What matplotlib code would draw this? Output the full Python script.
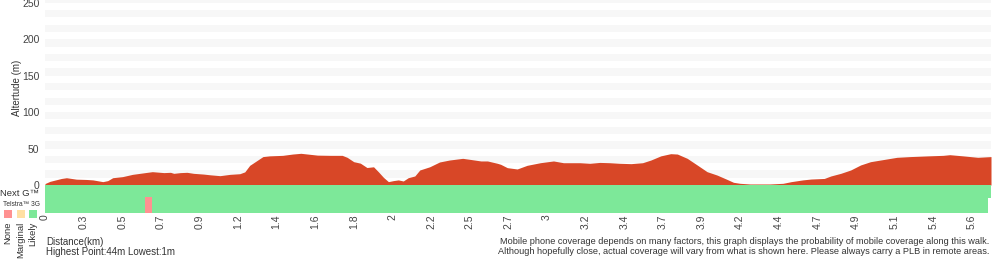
import numpy as np
import matplotlib
matplotlib.use("Agg")
import matplotlib.pyplot as plt

plt.rcParams['font.family'] = ['Liberation Sans', 'DejaVu Sans']

# elevation profile (km, m)
dist_km = [0.00, 0.03, 0.10, 0.13, 0.19, 0.25, 0.29, 0.35, 0.38, 0.41, 0.47, 0.53,
           0.62, 0.65, 0.72, 0.76, 0.78, 0.82, 0.86, 0.90, 0.96, 1.00, 1.06, 1.12,
           1.18, 1.21, 1.24, 1.28, 1.32, 1.36, 1.44, 1.50, 1.55, 1.59, 1.65, 1.73,
           1.80, 1.83, 1.87, 1.91, 1.95, 1.99, 2.02, 2.05, 2.08, 2.11, 2.14, 2.17,
           2.20, 2.24, 2.27, 2.33, 2.39, 2.45, 2.53, 2.58, 2.64, 2.68, 2.74, 2.76,
           2.80, 2.86, 2.92, 3.00, 3.08, 3.14, 3.24, 3.30, 3.36, 3.42, 3.48, 3.55,
           3.62, 3.67, 3.73, 3.79, 3.83, 3.89, 3.95, 4.01, 4.07, 4.13, 4.17, 4.21,
           4.27, 4.39, 4.47, 4.52, 4.59, 4.64, 4.72, 4.76, 4.82, 4.88, 4.94, 5.00,
           5.08, 5.16, 5.24, 5.35, 5.44, 5.48, 5.56, 5.65, 5.73]
elev_m = [2, 5, 9, 10, 8, 7.6, 7, 4.6, 6, 10, 11.5, 14.6,
          17.4, 18.3, 17, 17.4, 16, 17, 17.4, 16, 15, 14, 12.8, 14.6,
          15.5, 18, 27, 33, 39, 40, 40.7, 42.5, 43.5, 42.5, 41, 40.7,
          40.7, 38, 32, 30, 24, 25, 18, 10.5, 4.6, 6, 7, 5.5,
          10, 12.4, 20.6, 25, 31.6, 34.3, 36.6, 35, 33, 33, 29.8, 28.4,
          23.8, 22, 27, 30.6, 33, 30.6, 30.6, 29.8, 31, 30.6, 29.8, 29.3,
          30.6, 34.3, 40, 43, 42.5, 36.6, 27.5, 18.3, 13.7, 7.8, 3.7, 2.3,
          1.4, 1.4, 2.3, 4.6, 7, 8.2, 9, 12.4, 16, 20.6, 27.5, 32,
          35, 38, 39, 40, 40.7, 41.6, 40, 38, 39]

# coverage segments (start km, end km)
nextg_likely = [(0.0, 5.73)]
g3_likely = [(0.0, 0.606), (0.648, 5.71)]
g3_none = [(0.606, 0.648)]

tick_labels = ['0', '0.3', '0.5', '0.7', '0.9', '1.2', '1.4', '1.6', '1.8', '2',
               '2.2', '2.5', '2.7', '3', '3.2', '3.4', '3.7', '3.9', '4.2', '4.4',
               '4.7', '4.9', '5.1', '5.4', '5.6']
y_ticks = [0, 50, 100, 150, 200, 250]

RED = '#d84727'
GREEN = '#7de899'
PINK = '#ff9191'
YELLOW = '#ffe0a3'
STRIPE = '#f7f7f7'
TXT = '#333333'

W, H = 1000, 260
fig = plt.figure(figsize=(10, 2.6), dpi=100)

x0, x1 = 45, 991
ax = fig.add_axes([x0 / W, (H - 185) / H, (x1 - x0) / W, 185 / H])
xmax = dist_km[-1]
ax.set_xlim(0, xmax)
ax.set_ylim(0, 254)
for lo in range(10, 260, 20):
    ax.axhspan(lo, lo + 10, color=STRIPE, lw=0, zorder=0)
ax.fill_between(dist_km, elev_m, 0, color=RED, lw=0, zorder=2)
for s in ax.spines.values():
    s.set_visible(False)
ax.set_xticks([])
ax.set_yticks(y_ticks)
ax.set_yticklabels([str(v) for v in y_ticks], fontsize=7.5, color='#444444')
ax.tick_params(axis='y', length=0, pad=4)
fig.text(17 / W, 1 - 88 / H, 'Altertude (m)', rotation=90, fontsize=7,
         color=TXT, ha='center', va='center')

# coverage strip
cov = fig.add_axes([x0 / W, (H - 213) / H, (x1 - x0) / W, 28 / H])
cov.set_xlim(0, xmax)
cov.set_ylim(0, 28)
cov.broken_barh([(a, b - a) for a, b in nextg_likely], (15.5, 12.5), color=GREEN, lw=0)
cov.broken_barh([(a, b - a) for a, b in g3_likely], (0, 16), color=GREEN, lw=0)
cov.broken_barh([(a, b - a) for a, b in g3_none], (0, 16), color=PINK, lw=0)
cov.axis('off')

# distance labels, evenly spaced under the strip
tick_step = 0.2339
for i, lab in enumerate(tick_labels):
    cov.text(i * tick_step, -1.5, lab, rotation=90, ha='center', va='top',
             fontsize=7.5, color='#444444')

fig.text(0.5 / W, 1 - 193.5 / H, 'Next G\u2122', fontsize=6.8, color=TXT,
         ha='left', va='center', zorder=5)
fig.text(3 / W, 1 - 204 / H, 'Telstra\u2122 3G', fontsize=4.8, color=TXT,
         ha='left', va='center', zorder=5)
for cx, col, lab in [(8, PINK, 'None'), (21, YELLOW, 'Marginal'), (33, GREEN, 'Likely')]:
    fig.patches.append(plt.Rectangle(((cx - 4) / W, 1 - 218 / H), 8 / W, 8 / H,
                                     transform=fig.transFigure, color=col, lw=0))
    fig.text(cx / W, 1 - 222 / H, lab, rotation=90, fontsize=6.8, color=TXT,
             ha='center', va='top')

fig.text(46 / W, 1 - 242 / H, 'Distance(km)', fontsize=7, color=TXT,
         ha='left', va='center')
fig.text(46 / W, 1 - 252 / H, 'Highest Point:44m Lowest:1m', fontsize=7,
         color=TXT, ha='left', va='center')
fig.text(989 / W, 1 - 242 / H,
         'Mobile phone coverage depends on many factors, this graph displays the '
         'probability of mobile coverage along this walk.', fontsize=6.6,
         color=TXT, ha='right', va='center')
fig.text(989 / W, 1 - 252 / H,
         'Although hopefully close, actual coverage will vary from what is shown '
         'here. Please always carry a PLB in remote areas.', fontsize=6.6,
         color=TXT, ha='right', va='center')

fig.savefig('out.png', dpi=100)
